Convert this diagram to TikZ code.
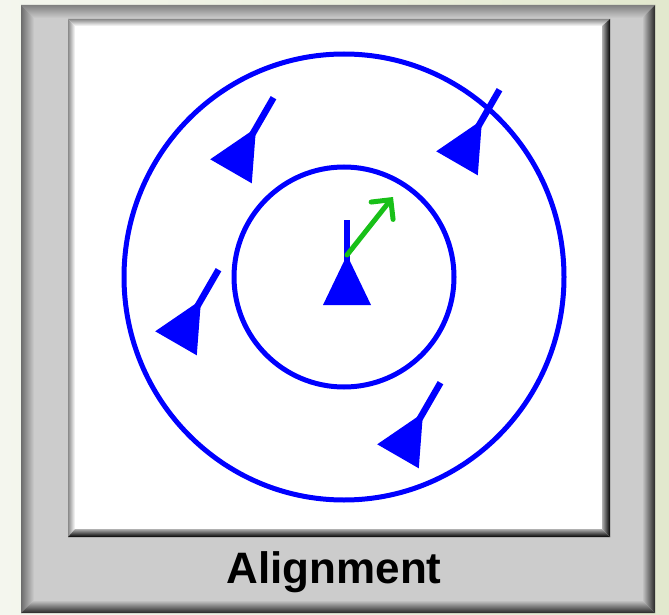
\documentclass[tikz,border=0pt]{standalone}
\usepackage{fontspec}
\setmainfont{Liberation Sans}
\usetikzlibrary{arrows.meta}
\definecolor{bgL}{HTML}{F4F6EE}
\definecolor{bgR}{HTML}{E2E8CE}
\definecolor{panel}{HTML}{CCCCCC}
\definecolor{bevTop}{HTML}{808080}
\definecolor{bevLeft}{HTML}{6C6C6C}
\definecolor{bevDark}{HTML}{262626}
\definecolor{inGray}{HTML}{8A8A8A}
\definecolor{inMid}{HTML}{B0B0B0}
\definecolor{figblue}{HTML}{0000FF}
\definecolor{arrgreen}{HTML}{18C018}
\begin{document}
\begin{tikzpicture}[x=1pt,y=-1pt,
  ring/.style={draw=figblue, line width=5pt},
  stick/.style={draw=figblue, line width=6.5pt},
  ship/.pic={
    \fill[figblue] (0,0) -- (-24,50) -- (24,50) -- cycle;
    \path[stick] (0,12) -- (0,-35);
  },
  headarrow/.style={draw=arrgreen, line width=5pt, line cap=round,
    -{Straight Barb[length=14pt,width=28pt,line cap=round]}}]
\useasboundingbox (0,0) rectangle (669,615);
% background
\shade[left color=bgL, right color=bgR] (0,0) rectangle (669,615);
% gray panel with bevel
\fill[panel] (21,5) rectangle (655,613);
\shade[top color=bevTop, bottom color=panel] (21,5) -- (655,5) -- (642,18) -- (34,18) -- cycle;
\shade[left color=bevLeft, right color=panel] (21,5) -- (34,18) -- (34,600) -- (21,613) -- cycle;
\shade[left color=panel, right color=bevDark] (655,5) -- (655,613) -- (642,600) -- (642,18) -- cycle;
\shade[top color=panel, bottom color=bevDark] (21,613) -- (655,613) -- (642,600) -- (34,600) -- cycle;
% inner white box
\fill[white] (68,19) rectangle (610,537);
\shade[top color=inGray, bottom color=white] (68,19) -- (610,19) -- (602,26) -- (75,26) -- cycle;
\shade[left color=inGray, right color=white] (68,19) -- (75,26) -- (75,529) -- (68,537) -- cycle;
\shade[left color=inMid, right color=black] (610,19) -- (610,537) -- (602,529) -- (602,26) -- cycle;
\shade[top color=inMid, bottom color=black] (68,537) -- (610,537) -- (602,529) -- (75,529) -- cycle;
% circles
\coordinate (ctr) at (344,277);
\path[ring] (ctr) ellipse [x radius=220pt, y radius=223pt];
\path[ring] (ctr) circle [radius=110pt];
% figures
\pic at (347,255) {ship};
\pic[rotate=-30] at (256,128) {ship};
\pic[rotate=-30] at (482,120) {ship};
\pic[rotate=-30] at (201,300) {ship};
\pic[rotate=-30] at (423,413) {ship};
% green arrow
\coordinate (base) at (347,255);
\coordinate (tip) at (393,197);
\draw[headarrow] (base) -- (tip);
% label
\node[font=\bfseries\fontsize{44}{50}\selectfont, anchor=base, inner sep=0pt] (lbl) at (334,583) {Alignment};
\end{tikzpicture}
\end{document}
